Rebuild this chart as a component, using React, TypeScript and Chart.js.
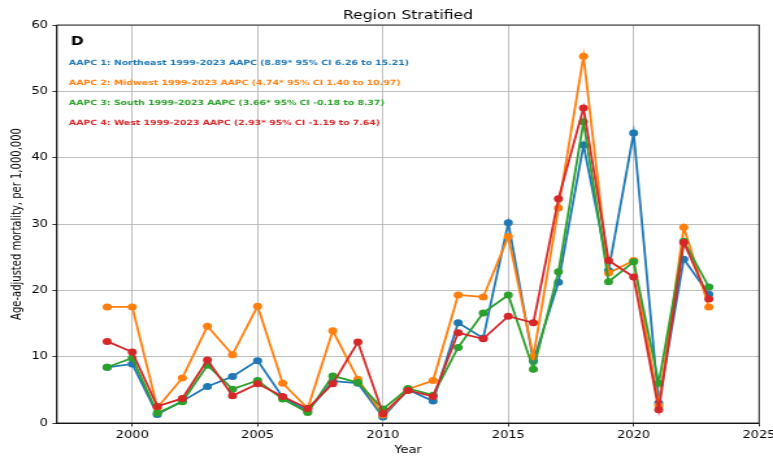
import React, { useEffect, useRef } from "react";
import { Chart, registerables } from "chart.js";

Chart.register(...registerables);

// The reference image is stretched horizontally; draw at a narrower size and stretch with CSS.
const OUT_W = 773;
const OUT_H = 458;
const STRETCH = 1.3;
const W = Math.round(OUT_W / STRETCH);
const K = W / OUT_W;

const FONT = "'DejaVu Sans', 'Liberation Sans', sans-serif";

const years = [
  1999, 2000, 2001, 2002, 2003, 2004, 2005, 2006, 2007, 2008, 2009, 2010, 2011,
  2012, 2013, 2014, 2015, 2016, 2017, 2018, 2019, 2020, 2021, 2022, 2023,
];

const northeast = [
  8.4, 8.9, 1.3, 3.3, 5.5, 7.0, 9.4, 3.9, 1.8, 6.3, 6.0, 0.9, 5.0, 3.3, 15.1,
  12.8, 30.2, 9.3, 21.2, 41.9, 23.0, 43.7, 3.0, 24.7, 19.4,
];
const midwest = [
  17.5, 17.5, 2.3, 6.8, 14.6, 10.3, 17.6, 6.0, 2.2, 13.9, 6.6, 1.2, 5.1, 6.4,
  19.3, 19.0, 28.1, 10.0, 32.4, 55.3, 22.6, 24.5, 2.6, 29.5, 17.5,
];
const south = [
  8.4, 9.8, 1.5, 3.2, 8.7, 5.1, 6.4, 3.6, 1.6, 7.1, 6.1, 2.1, 5.2, 4.2, 11.4,
  16.6, 19.3, 8.1, 22.8, 45.4, 21.3, 24.3, 6.0, 27.4, 20.5,
];
const west = [
  12.3, 10.7, 2.5, 3.7, 9.5, 4.1, 5.9, 4.0, 2.2, 5.9, 12.2, 1.4, 4.9, 4.0, 13.6,
  12.7, 16.1, 15.1, 33.8, 47.5, 24.5, 22.0, 2.0, 27.2, 18.7,
];

const seriesNames = ["Northeast", "Midwest", "South", "West"];
const seriesValues = [northeast, midwest, south, west];
const seriesColors = ["#1f77b4", "#ff7f0e", "#2ca02c", "#d62728"];

const annotations = [
  "AAPC 1: Northeast 1999-2023 AAPC (8.89* 95% CI 6.26 to 15.21)",
  "AAPC 2: Midwest 1999-2023 AAPC (4.74* 95% CI 1.40 to 10.97)",
  "AAPC 3: South 1999-2023 AAPC (3.66* 95% CI -0.18 to 8.37)",
  "AAPC 4: West 1999-2023 AAPC (2.93* 95% CI -1.19 to 7.64)",
];

const xTickValues = [2000, 2005, 2010, 2015, 2020, 2025];
const yTickValues = [0, 10, 20, 30, 40, 50, 60];

const chartTitle = "Region Stratified";
const panelLabel = "D";
const xTitle = "Year";
const yTitle = "Age-adjusted mortality, per 1,000,000";

const PLOT_LEFT = 57 * K;
const PLOT_RIGHT = 759 * K;
const PLOT_TOP = 25;
const PLOT_BOTTOM = 423;

const overlay = {
  id: "overlay",
  afterDraw(chart: any) {
    const ctx = chart.ctx as CanvasRenderingContext2D;
    const a = chart.chartArea;
    ctx.save();
    // frame
    ctx.strokeStyle = "#000";
    ctx.lineWidth = 0.8;
    ctx.strokeRect(a.left, a.top, a.right - a.left, a.bottom - a.top);

    const cx = (a.left + a.right) / 2;
    ctx.fillStyle = "#000";
    ctx.textAlign = "center";
    ctx.textBaseline = "alphabetic";
    ctx.font = `12px ${FONT}`;
    ctx.fillText(chartTitle, cx, a.top - 6);

    ctx.font = `10px ${FONT}`;
    ctx.fillText(xTitle, cx, 453);

    ctx.save();
    ctx.translate(17 * K, (a.top + a.bottom) / 2);
    ctx.rotate(-Math.PI / 2);
    ctx.textBaseline = "middle";
    ctx.fillText(yTitle, 0, 0);
    ctx.restore();

    ctx.textAlign = "left";
    ctx.font = `bold 12px ${FONT}`;
    ctx.fillText(panelLabel, a.left + 13 * K + 0.5, a.top + 20);

    ctx.font = `bold 7.2px ${FONT}`;
    annotations.forEach((t, i) => {
      ctx.fillStyle = seriesColors[i];
      ctx.fillText(t, a.left + 12 * K, a.top + 39.5 + i * 20);
    });
    ctx.restore();
  },
};

export default function App() {
  const ref = useRef<HTMLCanvasElement>(null);

  useEffect(() => {
    document.body.style.margin = "0";
    const canvas = ref.current!;
    const n = seriesValues.length;
    const chart = new Chart(canvas, {
      type: "line",
      data: {
        datasets: seriesValues.map((vals, i) => ({
          label: seriesNames[i],
          data: years.map((yr, j) => ({ x: yr, y: vals[j] })),
          borderColor: seriesColors[i],
          backgroundColor: seriesColors[i],
          pointBackgroundColor: seriesColors[i],
          pointBorderColor: seriesColors[i],
          pointBorderWidth: 0,
          pointRadius: 3.5,
          borderWidth: 1.8,
          tension: 0,
          fill: false,
          order: n - i,
        })),
      },
      options: {
        responsive: false,
        animation: false,
        devicePixelRatio: 1,
        layout: {
          padding: { top: PLOT_TOP, right: W - PLOT_RIGHT, bottom: 0, left: 0 },
        },
        plugins: {
          legend: { display: false },
          tooltip: { enabled: false },
          title: { display: false },
        },
        scales: {
          x: {
            type: "linear",
            min: 1997,
            max: 2025,
            afterBuildTicks: (s: any) => {
              s.ticks = xTickValues.map((v) => ({ value: v }));
            },
            afterFit: (s: any) => {
              s.height = OUT_H - PLOT_BOTTOM;
              s.paddingLeft = 0;
              s.paddingRight = 0;
            },
            ticks: {
              autoSkip: false,
              maxRotation: 0,
              padding: 3,
              color: "#000",
              font: { family: FONT, size: 10 },
              callback: (v: any) => String(v),
            },
            grid: {
              color: "#b0b0b0",
              lineWidth: 0.8,
              tickLength: 3.5,
              tickColor: "#000",
              tickWidth: 0.8,
            },
            border: { display: true, color: "#000", width: 0.8 },
          },
          y: {
            type: "linear",
            min: 0,
            max: 60,
            afterBuildTicks: (s: any) => {
              s.ticks = yTickValues.map((v) => ({ value: v }));
            },
            afterFit: (s: any) => {
              s.width = PLOT_LEFT;
              s.paddingTop = 0;
              s.paddingBottom = 0;
            },
            ticks: {
              padding: 3.5,
              color: "#000",
              font: { family: FONT, size: 10 },
              callback: (v: any) => String(v),
            },
            grid: {
              color: "#b0b0b0",
              lineWidth: 0.8,
              tickLength: 3.5,
              tickColor: "#000",
              tickWidth: 0.8,
            },
            border: { display: true, color: "#000", width: 0.8 },
          },
        },
      },
      plugins: [overlay],
    });
    return () => chart.destroy();
  }, []);

  return (
    <canvas
      ref={ref}
      width={W}
      height={OUT_H}
      style={{ width: OUT_W + "px", height: OUT_H + "px", display: "block" }}
    />
  );
}
